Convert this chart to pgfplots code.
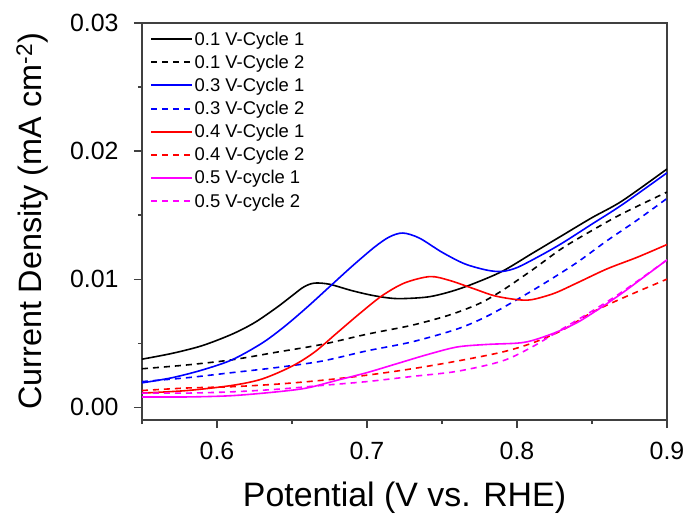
\documentclass[border=0pt]{standalone}
\usepackage{fontspec}
\setmainfont{Liberation Sans}
\usepackage{pgfplots}
\pgfplotsset{compat=1.18}
\definecolor{cblue}{RGB}{0,0,255}
\definecolor{cred}{RGB}{255,0,0}
\definecolor{cmag}{RGB}{255,0,255}
\begin{document}
\begin{tikzpicture}
\path[use as bounding box] (-142bp,-96bp) rectangle (548bp,23bp+397bp);
\begin{axis}[
  at={(0,0)}, anchor=south west,
  scale only axis, width=525bp, height=397bp,
  xmin=0.55, xmax=0.9, ymin=-0.001, ymax=0.03,
  xtick={0.6,0.7,0.8,0.9}, minor xtick={0.55,0.65,0.75,0.85},
  ytick={0,0.01,0.02,0.03}, minor ytick={0.005,0.015,0.025},
  xtick pos=bottom, ytick pos=left,
  tick align=outside,
  major tick length=8bp, minor tick length=4bp,
  every tick/.style={black!75, line width=1.2bp},
  axis line style={black!75, line width=1.5bp},
  /pgf/number format/assume math mode=true,
  xticklabel style={/pgf/number format/.cd, fixed, precision=1, zerofill, /tikz/.cd, font=\fontsize{25}{30}\selectfont, yshift=-11bp},
  yticklabel style={/pgf/number format/.cd, fixed, precision=2, zerofill, /tikz/.cd, font=\fontsize{25}{30}\selectfont, xshift=-12bp},
  scaled y ticks=false,
  xlabel={Potential (V vs. RHE)},
  ylabel={Current Density (mA cm\textsuperscript{-2})},
  xlabel style={font=\fontsize{34}{39}\selectfont, at={(rel axis cs:0.5,0)}, anchor=north, inner sep=0pt, yshift=-62bp},
  ylabel style={font=\fontsize{32.5}{37}\selectfont, at={(rel axis cs:0,0.5)}, anchor=south, inner sep=0pt, yshift=94bp},
  legend style={at={(rel axis cs:0,1)}, anchor=north west, xshift=6bp, yshift=-5bp, draw=none, fill=none,
    font=\fontsize{18.5}{22}\selectfont, row sep=5.3bp, inner sep=2bp,
    nodes={inner sep=1.5bp}},
  legend cell align=left,
  legend image code/.code={\draw[#1, line width=2bp] (0bp,0bp) -- (41bp,0bp);},
  /tikz/every even column/.append style={column sep=10bp},
]
\addplot[black, line width=1.6bp, smooth] coordinates {
(0.55,0.00375)(0.57,0.0042)(0.59,0.0048)(0.61,0.0057)(0.625,0.0066)(0.64,0.0078)(0.65,0.0087)(0.658,0.0094)(0.665,0.00969)(0.675,0.0096)(0.69,0.0091)(0.705,0.0087)(0.72,0.00848)(0.74,0.0086)(0.755,0.0090)(0.77,0.0096)(0.79,0.0106)(0.81,0.0120)(0.83,0.0134)(0.85,0.0148)(0.87,0.0161)(0.9,0.0186)};
\addlegendentry{0.1 V-Cycle 1}
\addplot[black, line width=1.6bp, dash pattern=on 6bp off 5bp, smooth] coordinates {
(0.55,0.0030)(0.58,0.0033)(0.61,0.0037)(0.64,0.0043)(0.67,0.0049)(0.70,0.0057)(0.73,0.0064)(0.755,0.0072)(0.775,0.0081)(0.79,0.0091)(0.81,0.0107)(0.83,0.0124)(0.85,0.0138)(0.87,0.0151)(0.9,0.0168)};
\addlegendentry{0.1 V-Cycle 2}
\addplot[cblue, line width=1.6bp, smooth] coordinates {
(0.55,0.0019)(0.57,0.0023)(0.59,0.0029)(0.61,0.0037)(0.63,0.0050)(0.645,0.0063)(0.66,0.0078)(0.675,0.0094)(0.69,0.0110)(0.705,0.0125)(0.715,0.0133)(0.724,0.0136)(0.735,0.0132)(0.75,0.0121)(0.765,0.0112)(0.78,0.0107)(0.79,0.0106)(0.80,0.0109)(0.815,0.0118)(0.83,0.0128)(0.85,0.0143)(0.87,0.0158)(0.9,0.0183)};
\addlegendentry{0.3 V-Cycle 1}
\addplot[cblue, line width=1.6bp, dash pattern=on 6bp off 5bp, smooth] coordinates {
(0.55,0.0020)(0.58,0.0023)(0.61,0.0027)(0.64,0.0031)(0.67,0.0036)(0.70,0.0044)(0.73,0.0051)(0.76,0.0061)(0.78,0.0071)(0.80,0.0084)(0.82,0.0098)(0.84,0.0113)(0.86,0.0130)(0.88,0.0146)(0.9,0.0163)};
\addlegendentry{0.3 V-Cycle 2}
\addplot[cred, line width=1.6bp, smooth] coordinates {
(0.55,0.0011)(0.58,0.0013)(0.61,0.0017)(0.63,0.0022)(0.65,0.0032)(0.665,0.0043)(0.68,0.0058)(0.695,0.0073)(0.71,0.0087)(0.725,0.0097)(0.742,0.0102)(0.755,0.0099)(0.77,0.0093)(0.785,0.0087)(0.80,0.0084)(0.81,0.0084)(0.825,0.0089)(0.84,0.0097)(0.86,0.0108)(0.88,0.0117)(0.9,0.0127)};
\addlegendentry{0.4 V-Cycle 1}
\addplot[cred, line width=1.6bp, dash pattern=on 6bp off 5bp, smooth] coordinates {
(0.55,0.0013)(0.58,0.0015)(0.61,0.0016)(0.64,0.0018)(0.67,0.0021)(0.70,0.0025)(0.73,0.0030)(0.76,0.0036)(0.79,0.0043)(0.81,0.0050)(0.83,0.0060)(0.85,0.0074)(0.87,0.0085)(0.9,0.0100)};
\addlegendentry{0.4 V-Cycle 2}
\addplot[cmag, line width=1.6bp, smooth] coordinates {
(0.55,0.0008)(0.58,0.0008)(0.61,0.0009)(0.64,0.0012)(0.66,0.0015)(0.68,0.0021)(0.70,0.0027)(0.72,0.0034)(0.74,0.0041)(0.76,0.0047)(0.78,0.0049)(0.80,0.0050)(0.81,0.0052)(0.825,0.0058)(0.84,0.0066)(0.855,0.0077)(0.87,0.0089)(0.885,0.0102)(0.9,0.0115)};
\addlegendentry{0.5 V-cycle 1}
\addplot[cmag, line width=1.6bp, dash pattern=on 6bp off 5bp, smooth] coordinates {
(0.55,0.0011)(0.58,0.0011)(0.61,0.0012)(0.64,0.0014)(0.67,0.0017)(0.70,0.0020)(0.73,0.0024)(0.76,0.0028)(0.79,0.0036)(0.81,0.0047)(0.83,0.0061)(0.85,0.0075)(0.87,0.0090)(0.9,0.0115)};
\addlegendentry{0.5 V-cycle 2}
\end{axis}
\end{tikzpicture}
\end{document}
